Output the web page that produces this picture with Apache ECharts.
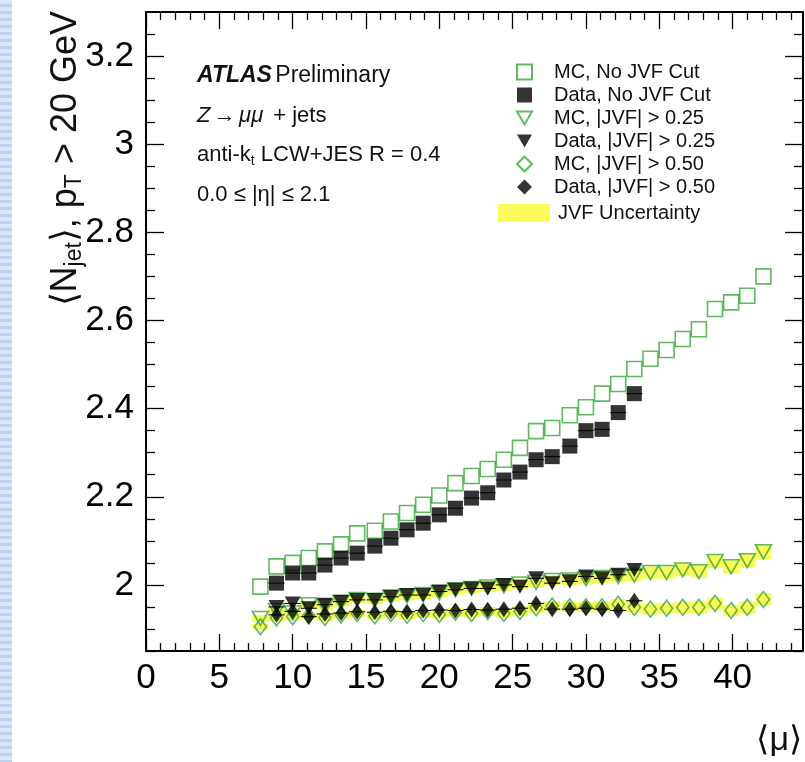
<!DOCTYPE html>
<html>
<head>
<meta charset="utf-8">
<script src="https://cdn.jsdelivr.net/npm/echarts@6.0.0/dist/echarts.min.js"></script>
<style>
html, body { margin: 0; padding: 0; background: #fff; }
#chart { position: absolute; left: 0; top: 0; width: 805px; height: 762px; }
#strip { position: absolute; left: 0; top: 0; width: 12px; height: 762px;
  background: repeating-linear-gradient(180deg, #d9e5f5 0 4px, #bcd1ec 4px 7px); }
</style>
</head>
<body>
<div id="chart"></div>
<div id="strip"></div>
<script>
// <mu> bin centres (MC covers all bins, data stops at 33.3)
const muBins = [7.8, 8.9, 10.0, 11.1, 12.2, 13.3, 14.4, 15.6, 16.7, 17.8, 18.9, 20.0, 21.1, 22.2, 23.3, 24.4,
  25.5, 26.6, 27.7, 28.9, 30.0, 31.1, 32.2, 33.3, 34.4, 35.5, 36.6, 37.7, 38.8, 39.9, 41.0, 42.1];
const muData = muBins.slice(1, 24);

const mcNoCut = [1.996, 2.042, 2.050, 2.061, 2.076, 2.092, 2.117, 2.123, 2.144, 2.163, 2.182, 2.203, 2.231, 2.247, 2.263, 2.284,
  2.311, 2.349, 2.356, 2.385, 2.403, 2.434, 2.456, 2.490, 2.513, 2.533, 2.558, 2.580, 2.626, 2.641, 2.656, 2.700];
const dataNoCut = [2.004, 2.027, 2.027, 2.045, 2.061, 2.072, 2.088, 2.106, 2.125, 2.140, 2.159, 2.174, 2.197, 2.209, 2.238, 2.256,
  2.284, 2.291, 2.315, 2.350, 2.353, 2.391, 2.434];

const mcJvf25 = [1.924, 1.942, 1.936, 1.955, 1.951, 1.960, 1.967, 1.965, 1.972, 1.975, 1.978, 1.982, 1.989, 1.992, 1.995, 1.998,
  2.002, 2.006, 2.010, 2.011, 2.014, 2.017, 2.019, 2.022, 2.028, 2.028, 2.034, 2.030, 2.053, 2.041, 2.055, 2.075];
const dataJvf25 = [1.950, 1.958, 1.947, 1.955, 1.962, 1.966, 1.966, 1.973, 1.977, 1.977, 1.985, 1.989, 1.992, 1.992, 2.000, 1.996,
  2.015, 2.004, 2.008, 2.019, 2.015, 2.023, 2.034];

const mcJvf50 = [1.905, 1.925, 1.928, 1.930, 1.926, 1.932, 1.935, 1.930, 1.935, 1.931, 1.935, 1.933, 1.938, 1.935, 1.940, 1.935,
  1.940, 1.948, 1.952, 1.950, 1.950, 1.950, 1.956, 1.949, 1.945, 1.947, 1.949, 1.949, 1.958, 1.942, 1.949, 1.967];
const dataJvf50 = [1.932, 1.940, 1.928, 1.934, 1.936, 1.939, 1.938, 1.940, 1.939, 1.942, 1.943, 1.942, 1.944, 1.943, 1.945, 1.947,
  1.958, 1.945, 1.945, 1.947, 1.945, 1.942, 1.964];

// JVF systematic, half height of the yellow boxes
const uncJvf25 = [0.008, 0.008, 0.008, 0.008, 0.009, 0.009, 0.009, 0.009, 0.010, 0.010, 0.010, 0.010, 0.011, 0.011, 0.011, 0.011,
  0.012, 0.012, 0.012, 0.012, 0.013, 0.013, 0.013, 0.013, 0.014, 0.014, 0.014, 0.014, 0.015, 0.015, 0.016, 0.016];
const uncJvf50 = [0.007, 0.007, 0.007, 0.007, 0.008, 0.008, 0.008, 0.008, 0.009, 0.009, 0.009, 0.009, 0.010, 0.010, 0.010, 0.010,
  0.011, 0.011, 0.011, 0.011, 0.012, 0.012, 0.012, 0.012, 0.012, 0.012, 0.013, 0.013, 0.013, 0.013, 0.014, 0.014];

const xMajorTicks = [0, 5, 10, 15, 20, 25, 30, 35, 40];
const yMajorTicks = [2.0, 2.2, 2.4, 2.6, 2.8, 3.0, 3.2];

const X_MIN = 0, X_MAX = 44.8, Y_MIN = 1.85, Y_MAX = 3.3;
const binHalf = 0.55;

const xMinorTicks = [];
for (let v = 1; v < X_MAX; v++) if (v % 5 !== 0) xMinorTicks.push(v);
const yMinorTicks = [];
for (let k = 37; k <= 66; k++) if (k % 4 !== 0) yMinorTicks.push(k * 0.05);

const FONT = 'Liberation Sans, Arial, Helvetica, sans-serif';
const GREEN = '#36a935';
const YELLOW = '#fafa5a';
const DOWN_TRI = 'path://M0,0 L16,0 L8,14 Z';

function pairs(xs, ys) { return ys.map((v, i) => [xs[i], v]); }
function triples(xs, ys, us) { return ys.map((v, i) => [xs[i], v, us[i]]); }

function axis(dim, position, ticks, len, withLine, withLabel) {
  return {
    type: 'value', position: position,
    min: dim === 'x' ? X_MIN : Y_MIN, max: dim === 'x' ? X_MAX : Y_MAX,
    splitLine: { show: false },
    axisLine: { show: withLine, onZero: false, lineStyle: { color: '#000', width: 2 } },
    axisTick: { show: true, inside: true, length: len, customValues: ticks, lineStyle: { color: '#000', width: 1.3 } },
    axisLabel: { show: withLabel, customValues: ticks, color: '#000', fontSize: 35, fontFamily: FONT,
      margin: dim === 'x' ? 10 : 12, formatter: v => String(Math.round(v * 10) / 10) }
  };
}

const bandItem = function (params, api) {
  const x = api.value(0), y = api.value(1), u = api.value(2);
  const p1 = api.coord([x - binHalf, y + u]);
  const p2 = api.coord([x + binHalf, y - u]);
  return { type: 'rect', shape: { x: p1[0], y: p1[1], width: p2[0] - p1[0], height: p2[1] - p1[1] },
    style: { fill: YELLOW } };
};
const xErrItem = function (params, api) {
  const x = api.value(0), y = api.value(1);
  const p1 = api.coord([x - binHalf, y]);
  const p2 = api.coord([x + binHalf, y]);
  return { type: 'line', shape: { x1: p1[0], y1: p1[1], x2: p2[0], y2: p2[1] },
    style: { stroke: '#000', lineWidth: 1 } };
};

const openStyle = { color: 'rgba(255,255,255,0)', borderColor: GREEN, borderWidth: 1.6 };
const fillStyle = { color: '#000' };

const chart = echarts.init(document.getElementById('chart'), null, { renderer: 'canvas' });
chart.setOption({
  animation: false,
  grid: { left: 146, right: 2, top: 12, bottom: 111 },
  xAxis: [
    axis('x', 'bottom', xMajorTicks, 17, true, true),
    axis('x', 'bottom', xMinorTicks, 8, false, false),
    axis('x', 'top', xMajorTicks, 17, true, false),
    axis('x', 'top', xMinorTicks, 8, false, false)
  ],
  yAxis: [
    axis('y', 'left', yMajorTicks, 18, true, true),
    axis('y', 'left', yMinorTicks, 9, false, false),
    axis('y', 'right', yMajorTicks, 18, true, false),
    axis('y', 'right', yMinorTicks, 9, false, false)
  ],
  legend: [
    {
      data: [
        'MC, No JVF Cut', 'Data, No JVF Cut',
        { name: 'MC, |JVF| > 0.25', icon: DOWN_TRI },
        { name: 'Data, |JVF| > 0.25', icon: DOWN_TRI },
        'MC, |JVF| > 0.50', 'Data, |JVF| > 0.50'
      ],
      orient: 'vertical', left: 511, top: 57, itemWidth: 15, itemHeight: 15, itemGap: 3,
      selectedMode: false,
      textStyle: { fontSize: 20, fontFamily: FONT, color: '#111', padding: [0, 0, 0, 17], lineHeight: 20 }
    },
    {
      data: [{ name: 'JVF Uncertainty', icon: 'rect' }],
      orient: 'vertical', left: 493, top: 198, itemWidth: 52, itemHeight: 18,
      selectedMode: false,
      textStyle: { fontSize: 20, fontFamily: FONT, color: '#111', padding: [0, 0, 0, 3] }
    }
  ],
  series: [
    { name: 'JVF Uncertainty', type: 'custom', renderItem: bandItem, encode: { x: 0, y: 1 }, z: 1,
      itemStyle: { color: YELLOW }, data: triples(muBins, mcJvf25, uncJvf25) },
    { name: 'JVF Uncertainty', type: 'custom', renderItem: bandItem, encode: { x: 0, y: 1 }, z: 1,
      itemStyle: { color: YELLOW }, data: triples(muBins, mcJvf50, uncJvf50) },
    { name: 'MC, No JVF Cut', type: 'scatter', symbol: 'rect', symbolSize: 15, z: 3,
      itemStyle: openStyle, data: pairs(muBins, mcNoCut) },
    { name: 'MC, |JVF| > 0.25', type: 'scatter', symbol: 'triangle', symbolRotate: 180, symbolSize: [16, 14], z: 3,
      itemStyle: openStyle, data: pairs(muBins, mcJvf25) },
    { name: 'MC, |JVF| > 0.50', type: 'scatter', symbol: 'diamond', symbolSize: [12, 16], z: 3,
      itemStyle: openStyle, data: pairs(muBins, mcJvf50) },
    { type: 'custom', renderItem: xErrItem, encode: { x: 0, y: 1 }, z: 4, silent: true, data: pairs(muData, dataNoCut) },
    { type: 'custom', renderItem: xErrItem, encode: { x: 0, y: 1 }, z: 4, silent: true, data: pairs(muData, dataJvf25) },
    { type: 'custom', renderItem: xErrItem, encode: { x: 0, y: 1 }, z: 4, silent: true, data: pairs(muData, dataJvf50) },
    { name: 'Data, No JVF Cut', type: 'scatter', symbol: 'rect', symbolSize: 15, z: 5,
      itemStyle: fillStyle, data: pairs(muData, dataNoCut) },
    { name: 'Data, |JVF| > 0.25', type: 'scatter', symbol: 'triangle', symbolRotate: 180, symbolSize: [16, 14], z: 5,
      itemStyle: fillStyle, data: pairs(muData, dataJvf25) },
    { name: 'Data, |JVF| > 0.50', type: 'scatter', symbol: 'diamond', symbolSize: [11, 16], z: 5,
      itemStyle: fillStyle, data: pairs(muData, dataJvf50) }
  ],
  graphic: [
    { type: 'text', left: 197, top: 64, style: {
      text: '{b|ATLAS} {n|Preliminary}', fontFamily: FONT, fill: '#111',
      rich: { b: { fontSize: 23, fontWeight: 'bold', fontStyle: 'italic', fontFamily: FONT },
              n: { fontSize: 23, fontFamily: FONT } } } },
    { type: 'text', left: 197, top: 105, style: {
      text: '{i|Z} {n|\u2192} {i|\u03bc\u03bc}   {n|+ jets}', fontFamily: FONT, fill: '#111',
      rich: { i: { fontSize: 22, fontStyle: 'italic', fontFamily: FONT }, n: { fontSize: 22, fontFamily: FONT } } } },
    { type: 'text', left: 197, top: 144, style: {
      text: '{n|anti-k}{s|t}{n| LCW+JES R = 0.4}', fontFamily: FONT, fill: '#111',
      rich: { n: { fontSize: 22, fontFamily: FONT, lineHeight: 24, verticalAlign: 'top' },
              s: { fontSize: 14, fontFamily: FONT, lineHeight: 16, verticalAlign: 'bottom' } } } },
    { type: 'text', left: 197, top: 184, style: {
      text: '0.0 \u2264 |\u03b7| \u2264 2.1', fontSize: 22, fontFamily: FONT, fill: '#111' } },
    { type: 'text', x: 67, y: 11, rotation: Math.PI / 2, style: {
      text: '{a|\u27e8N}{s|jet}{a|\u27e9, p}{s|T}{a| > 20 GeV}', align: 'right', verticalAlign: 'middle', fill: '#111',
      rich: { a: { fontSize: 36, fontFamily: FONT, lineHeight: 38, verticalAlign: 'top' },
              s: { fontSize: 23, fontFamily: FONT, lineHeight: 25, verticalAlign: 'bottom' } } } },
    { type: 'text', right: 3, top: 724, style: {
      text: '\u27e8\u03bc\u27e9', fontSize: 34, fontFamily: FONT, fill: '#111' } }
  ]
});
</script>
</body>
</html>
